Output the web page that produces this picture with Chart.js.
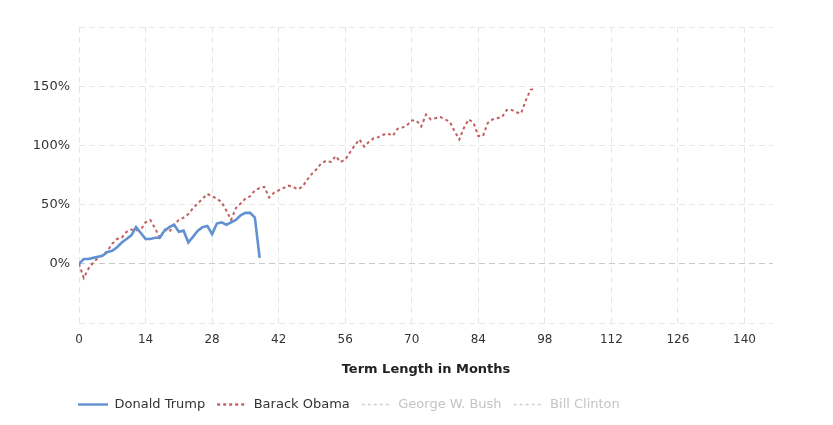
<!DOCTYPE html>
<html>
<head>
<meta charset="utf-8">
<script src="https://cdn.jsdelivr.net/npm/chart.js@4/dist/chart.umd.min.js"></script>
<style>
  html, body { margin: 0; padding: 0; background: #fff; }
  #wrap { width: 833px; height: 425px; }
</style>
</head>
<body>
<div id="wrap"><canvas id="chart" width="833" height="425"></canvas></div>
<script>
// percent change since inauguration, by month of term
const trump = [0, 4, 4, 5, 6, 7, 10, 11, 14, 18, 21, 24, 31, 26, 21, 21, 22, 22, 28, 31,
  33, 27, 28, 18, 23, 28, 31, 32, 25, 34, 35, 33, 35, 37, 41, 43, 43, 39, 5];

const obama = [0, -12, -4, 1, 5, 7, 11, 17, 21, 22, 27, 29, 28, 29, 35, 37, 30, 22, 29, 27,
  33, 37, 39, 42, 47, 51, 55, 59, 57, 55, 52, 45, 37, 47, 51, 55, 57, 62, 64, 65,
  56, 60, 62, 64, 66, 65, 63, 65, 71, 76, 80, 85, 87, 86, 91, 86, 88, 94, 100, 105,
  99, 103, 106, 107, 109, 110, 108, 114, 115, 117, 121, 121, 116, 126, 122, 123, 124, 122, 120, 112,
  105, 115, 122, 119, 108, 108, 119, 122, 123, 124, 130, 130, 128, 127, 138, 147, 148];

const bush = [];
const clinton = [];

const xTicks = [0, 14, 28, 42, 56, 70, 84, 98, 112, 126, 140];
const yTicks = [0, 50, 100, 150];

const toPoints = arr => arr.map((v, i) => ({ x: i, y: v }));

const FONT = "'DejaVu Sans', Verdana, sans-serif";

// legend starts under the plot, not at the canvas edge
const legendShift = {
  id: "legendShift",
  afterLayout(chart) {
    if (chart.legend) chart.legend.left = 66;
  }
};

new Chart(document.getElementById("chart"), {
  type: "line",
  data: {
    datasets: [
      {
        label: "Donald Trump",
        data: toPoints(trump),
        borderColor: "#6291d2",
        borderWidth: 2.6,
        pointRadius: 0,
        tension: 0
      },
      {
        label: "Barack Obama",
        data: toPoints(obama),
        borderColor: "#c0605e",
        borderWidth: 2,
        borderDash: [3, 3],
        pointRadius: 0,
        tension: 0
      },
      {
        label: "George W. Bush",
        data: toPoints(bush),
        borderColor: "#d0d0d0",
        borderWidth: 1.5,
        borderDash: [3, 3],
        pointRadius: 0
      },
      {
        label: "Bill Clinton",
        data: toPoints(clinton),
        borderColor: "#d0d0d0",
        borderWidth: 1.5,
        borderDash: [3, 3],
        pointRadius: 0
      }
    ]
  },
  options: {
    responsive: false,
    animation: false,
    layout: { padding: { left: 0, right: 60, top: 27, bottom: 4 } },
    plugins: {
      tooltip: { enabled: false },
      legend: {
        position: "bottom",
        align: "start",
        labels: {
          usePointStyle: true,
          pointStyle: "line",
          pointStyleWidth: 30,
          padding: 12,
          font: { family: FONT, size: 13 },
          generateLabels(chart) {
            return chart.data.datasets.map((ds, i) => {
              const active = i < 2;
              return {
                text: ds.label,
                datasetIndex: i,
                strokeStyle: ds.borderColor,
                fillStyle: ds.borderColor,
                lineWidth: active ? 2.4 : 1.5,
                lineDash: ds.borderDash || [],
                pointStyle: "line",
                fontColor: active ? "#333" : "#c4c4c4",
                hidden: false
              };
            });
          }
        }
      }
    },
    scales: {
      x: {
        type: "linear",
        min: 0,
        max: 146,
        afterBuildTicks: scale => {
          scale.ticks = xTicks.map(v => ({ value: v }));
        },
        afterFit: scale => { scale.height = 63; },
        grid: { color: "#e6e6e6", lineWidth: 1, drawTicks: false },
        border: { display: false, dash: [6, 4] },
        ticks: {
          padding: 10,
          color: "#333",
          font: { family: FONT, size: 12 },
          maxRotation: 0
        },
        title: {
          display: true,
          text: "Term Length in Months",
          color: "#222",
          font: { family: FONT, size: 13, weight: "bold" },
          padding: { top: 0, bottom: 9 }
        }
      },
      y: {
        min: -50,
        max: 200,
        afterBuildTicks: scale => {
          scale.ticks = [-50].concat(yTicks, [200]).map(v => ({ value: v }));
        },
        afterFit: scale => { scale.width = 79; },
        grid: {
          color: ctx => (ctx.tick && ctx.tick.value === 0) ? "#c8c8c8" : "#e6e6e6",
          lineWidth: 1,
          drawTicks: false
        },
        border: { display: false, dash: [6, 4] },
        ticks: {
          padding: 9,
          color: "#333",
          font: { family: FONT, size: 13 },
          callback: v => yTicks.includes(v) ? v + "%" : ""
        }
      }
    }
  },
  plugins: [legendShift]
});
</script>
</body>
</html>
